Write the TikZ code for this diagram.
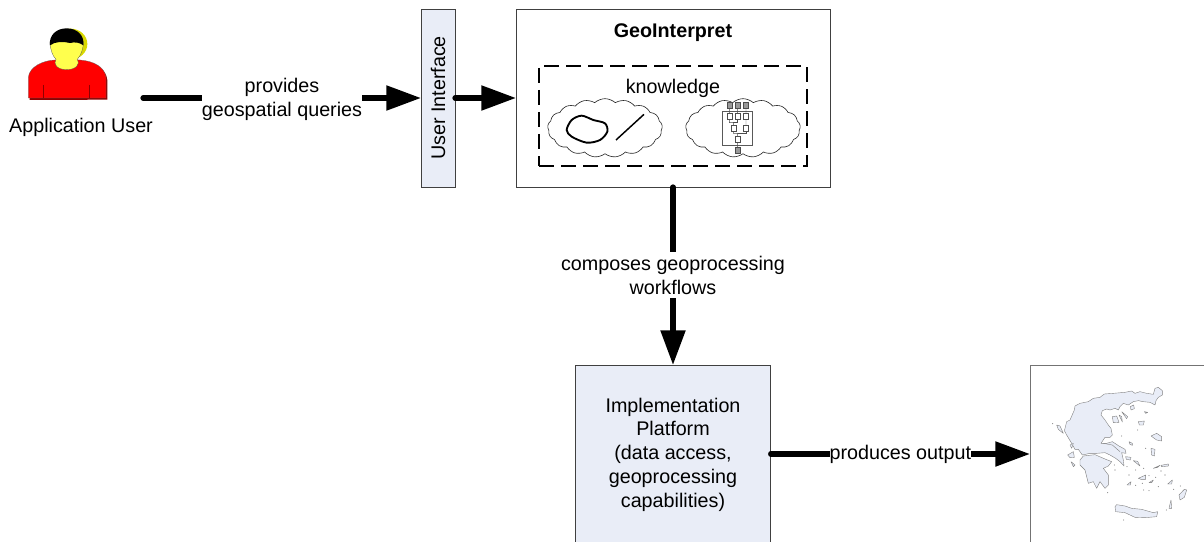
\documentclass[tikz,border=0pt]{standalone}
\usepackage{fontspec}
\setmainfont{Liberation Sans}
\usetikzlibrary{arrows.meta,shapes.symbols}
\definecolor{paleblue}{HTML}{E9EDF7}
\definecolor{shadowred}{HTML}{8E0000}
\definecolor{shadowyel}{HTML}{D8D800}
\definecolor{headyel}{HTML}{FFFF4D}
\tikzset{
  txt/.style={font=\fontsize{14.8}{17.8}\selectfont,align=center,inner sep=0pt},
  boxw/.style={draw=black!75,line width=0.6pt,fill=white,inner sep=0pt,outer sep=0pt,txt},
  boxb/.style={draw=black!75,line width=0.6pt,fill=paleblue,inner sep=0pt,outer sep=0pt,txt},
  conn/.style={line width=3.9pt,line cap=round,-{Triangle[length=26pt,width=18pt]}},
  lbl/.style={txt,fill=white},
  puff/.style={cloud,cloud puffs=17,cloud puff arc=85,aspect=2.1,draw=black!85,line width=0.45pt,inner sep=0pt,minimum width=86pt,minimum height=44pt},
  wfg/.style={draw=black!70,line width=0.35pt,fill=black!40,minimum width=3.6pt,minimum height=4.4pt,inner sep=0pt},
  wfw/.style={draw=black!70,line width=0.35pt,fill=white,minimum width=3.6pt,minimum height=4.4pt,inner sep=0pt},
  wfl/.style={draw=black!70,line width=0.35pt},
  land/.style={draw=black!50,line width=0.3pt,fill=paleblue,line join=round},
}
\begin{document}
\begin{tikzpicture}[x=0.75pt,y=-0.75pt]
\useasboundingbox (0,0) rectangle (1204,542);
\clip (0,0) rectangle (1204,542);
% person
\begin{scope}[scale=1/3]
  \fill[shadowred] (89,300) -- (89,240) .. controls (92,205) and (135,186) .. (170,185) -- (245,185) .. controls (285,190) and (318,205) .. (322,240) -- (322,299) -- cycle;
  \fill[red,draw=black!60,line width=0.2pt] (85,294) -- (85,232) .. controls (88,200) and (130,181) .. (165,180) -- (240,180) .. controls (280,183) and (314,200) .. (318,232) -- (318,294) -- cycle;
  \draw[shadowred,line width=0.4pt] (131,255) -- (131,294) (269,255) -- (269,294);
  \fill[shadowyel] (212,132) ellipse [x radius=50, y radius=46];
  \fill[headyel,draw=black!70,line width=0.2pt] (150,125) .. controls (150,148) and (158,168) .. (168,178) .. controls (158,192) and (172,209) .. (200,209) .. controls (228,209) and (242,192) .. (232,178) .. controls (243,165) and (250,148) .. (250,125) -- cycle;
  \fill[black] (150,136) .. controls (146,105) and (170,85) .. (200,85) .. controls (230,85) and (254,105) .. (250,136) .. controls (240,128) and (225,125) .. (210,129) .. controls (190,124) and (165,124) .. (150,136) -- cycle;
\end{scope}
\coordinate (ustart) at (143,98);
\node[txt] (ulabel) at (81,127.5) {Application User};
% boxes
\node[boxb,minimum width=25.5pt,minimum height=133.5pt] (ui) at (438,98) {\rotatebox{90}{User Interface}};
\node[boxw,minimum width=235.5pt,minimum height=133.5pt] (geo) at (673,98) {};
\node[txt,font=\fontsize{14.8}{17.8}\selectfont\bfseries] (geot) at (673,32.5) {GeoInterpret};
\node[draw=black,line width=1.5pt,dash pattern=on 11pt off 5.5pt,minimum width=201pt,minimum height=75pt,inner sep=0pt] (know) at (673,116) {};
\node[txt] (knowt) at (673,88) {knowledge};
\node[puff] (c1) at (605,128) {};
\node[puff] (c2) at (743,128) {};
% left cloud contents
\begin{scope}[shift={(530,60)},scale=1/3]
  \draw[line width=1.4pt] plot[smooth cycle] coordinates {(110,210) (125,180) (155,167) (190,180) (225,190) (232,215) (210,240) (170,248) (125,230)};
  \draw[line width=1.1pt] (258,240) -- (342,163);
\end{scope}
% workflow
\begin{scope}[shift={(700,90)},scale=1/3]
  \node[draw=black!65,line width=0.35pt,minimum width=22.5pt,minimum height=25pt,inner sep=0pt] (wfbox) at (113,115) {};
  \node[wfg] (g1) at (88,47) {};
  \node[wfg] (g2) at (113,47) {};
  \node[wfg] (g3) at (138,47) {};
  \node[wfw] (a1) at (88,80) {};
  \node[wfw] (a2) at (113,80) {};
  \node[wfw] (a3) at (138,80) {};
  \node[wfw] (b1) at (100,115) {};
  \node[wfw] (b2) at (138,115) {};
  \node[wfw] (d1) at (113,147) {};
  \node[wfg] (e1) at (113,181) {};
  \draw[wfl] (g1) -- (a1);
  \draw[wfl] (g2) -- (a2);
  \draw[wfl] (g3) -- (a3);
  \draw[wfl] (a3) -- (b2);
  \draw[wfl] (a1.south) |- (100,98) -- (b1.north);
  \draw[wfl] (a2.south) |- (100,98);
  \draw[wfl] (b1.south) |- (113,130) -- (d1.north);
  \draw[wfl] (b2.south) |- (113,130);
  \draw[wfl] (d1) -- (e1);
\end{scope}
% implementation and map
\node[boxb,minimum width=146.5pt,minimum height=133.5pt,yshift=0pt] (impl) at (673,454) {};
\node[txt] (implt) at (673,454.5) {Implementation\\Platform\\(data access,\\geoprocessing\\capabilities)};
\node[draw=black!55,line width=0.7pt,fill=white,outer sep=0pt,minimum width=150pt,minimum height=133.5pt,inner sep=0pt] (map) at (1130,454) {};
\begin{scope}[shift={(1025,360)},scale=1/3]
  \draw[land] (120,205) -- (125,185) -- (135,180) -- (148,150) -- (150,138) -- (165,130) -- (190,125) -- (205,115) -- (225,112) -- (238,102) -- (265,100) -- (300,97) -- (320,93) -- (330,100) -- (345,95) -- (365,100) -- (385,103) -- (390,85) -- (400,82) -- (412,92) -- (412,105) -- (400,112) -- (393,122) -- (390,135) -- (375,127) -- (355,125) -- (340,122) -- (325,125) -- (310,135) -- (295,130) -- (285,140) -- (280,150) -- (270,145) -- (255,150) -- (245,147) -- (232,152) -- (228,165) -- (240,180) -- (250,195) -- (258,205) -- (262,225) -- (255,232) -- (240,232) -- (228,250) -- (245,250) -- (262,245) -- (282,258) -- (300,268) -- (303,280) -- (290,278) -- (295,300) -- (297,318) -- (285,305) -- (272,295) -- (255,285) -- (240,278) -- (215,280) -- (195,280) -- (172,285) -- (160,268) -- (150,268) -- (140,250) -- (125,225) -- (118,212) -- cycle;
  \draw[land] (165,300) -- (175,288) -- (210,284) -- (240,297) -- (260,305) -- (250,318) -- (235,325) -- (250,345) -- (250,375) -- (240,385) -- (225,365) -- (215,385) -- (205,365) -- (190,370) -- (180,330) -- (165,315) -- cycle;
  \draw[land] (270,440) -- (275,434) -- (300,438) -- (320,445) -- (350,448) -- (385,458) -- (398,455) -- (395,470) -- (360,473) -- (330,472) -- (300,458) -- (272,455) -- cycle;
  \draw[land] (378,228) -- (395,220) -- (410,230) -- (410,243) -- (395,240) -- cycle;
  \draw[land] (378,265) -- (390,268) -- (388,288) -- (380,285) -- cycle;
  \draw[land] (462,405) -- (478,388) -- (485,390) -- (478,412) -- (465,420) -- cycle;
  \draw[land] (432,445) -- (438,420) -- (440,445) -- cycle;
  \draw[land] (316,140) -- (326,135) -- (328,146) -- (318,150) -- cycle;
  \draw[land] (340,185) -- (358,183) -- (355,195) -- (343,195) -- cycle;
  \draw[land] (95,195) -- (105,198) -- (115,220) -- (100,208) -- cycle;
  \draw[land] (128,285) -- (145,275) -- (148,292) -- (135,293) -- cycle;
  \draw[land] (138,305) -- (150,315) -- (145,320) -- cycle;
  \draw[land] (135,255) -- (145,250) -- (140,265) -- cycle;
  \draw[land] (302,290) -- (318,292) -- (316,300) -- (304,298) -- cycle;
  \draw[land] (325,302) -- (338,304) -- (345,318) -- cycle;
  \draw[land] (385,325) -- (405,316) -- (398,322) -- cycle;
  \draw[land] (408,316) -- (430,312) -- (430,318) -- (410,320) -- cycle;
  \draw[land] (340,355) -- (362,345) -- (362,358) -- (348,358) -- cycle;
  \draw[land] (306,375) -- (318,365) -- (316,375) -- cycle;
  \draw[land] (372,368) -- (385,360) -- (380,368) -- cycle;
  \draw[land] (428,372) -- (442,360) -- (440,372) -- cycle;
  \draw[land] (312,245) -- (322,250) -- (322,256) -- (314,252) -- cycle;
  \draw[land] (358,155) -- (368,157) -- (362,160) -- cycle;
  \draw[land] (262,170) -- (275,168) -- (282,187) -- (265,188) -- cycle;
  \draw[land] (282,165) -- (290,170) -- (292,186) -- cycle;
  \draw[land] (290,155) -- (308,170) -- (305,176) -- cycle;
  \draw[draw=black!50,line width=0.3pt] (235,250) -- (262,255) -- (285,275);
  \foreach \dx/\dy in {83/191,338/210,296/480,362/265,306/320,312/345,332/330,356/325,372/347,392/352,408/333,420/345,400/380,352/370,332/376,372/392,356/390,446/388,466/378,248/398,268/315,270/330,290/228,424/450}
    \fill[black!55] (\dx,\dy) circle [radius=1.6];
\end{scope}
% connectors
\draw[conn] (ustart) -- (ui.west) node[midway,lbl,yshift=-1pt] (l1) {provides\\geospatial queries};
\draw[conn] (ui.east) -- (geo.west);
\draw[conn] (geo.south) -- (impl.north) node[midway,lbl,inner ysep=3pt,yshift=0.5pt] (l2) {composes geoprocessing\\workflows};
\draw[conn] (impl.east) -- (map.west) node[midway,lbl] (l3) {produces output};
\end{tikzpicture}
\end{document}
